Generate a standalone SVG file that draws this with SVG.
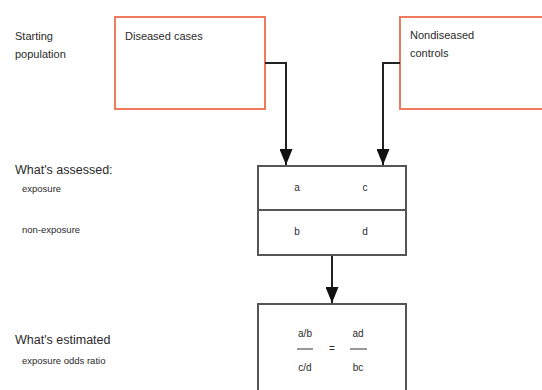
<svg xmlns="http://www.w3.org/2000/svg" width="542" height="390" viewBox="0 0 542 390">
  <style>
    text { font-family: "Liberation Sans", Arial, sans-serif; fill: #2a2a2a; }
    .lbl { font-size: 11px; }
    .head { font-size: 12.5px; }
    .sub { font-size: 9.5px; }
    .cell { font-size: 10px; text-anchor: middle; }
    .pop { fill: #fff; stroke: #f07a5e; stroke-width: 2; }
    .tab { fill: #fff; stroke: #555; stroke-width: 2; }
    .conn { fill: none; stroke: #222; stroke-width: 2; }
    .frac { stroke: #555; stroke-width: 1.2; }
  </style>
  <defs>
    <marker id="arrow" viewBox="0 0 16 13" refX="16" refY="6.5" markerWidth="8" markerHeight="6.5" markerUnits="strokeWidth" orient="auto">
      <path d="M0,0 L16,6.5 L0,13 z" fill="#111"/>
    </marker>
  </defs>

  <rect width="542" height="390" fill="#fff"/>

  <!-- row labels -->
  <g id="row-labels">
    <text class="lbl" x="15" y="40">Starting</text>
    <text class="lbl" x="15" y="58">population</text>
    <text class="head" x="15" y="174">What's assessed:</text>
    <text class="sub" x="22" y="192">exposure</text>
    <text class="sub" x="22" y="233">non-exposure</text>
    <text class="head" x="15" y="344">What's estimated</text>
    <text class="sub" x="22" y="364">exposure odds ratio</text>
  </g>

  <g id="cases">
    <rect class="pop" x="115" y="17" width="150" height="92"/>
    <text class="lbl" x="125" y="40">Diseased cases</text>
  </g>

  <g id="controls">
    <rect class="pop" x="400" y="17" width="160" height="92"/>
    <text class="lbl" x="410" y="39">Nondiseased</text>
    <text class="lbl" x="410" y="57">controls</text>
  </g>

  <g id="table">
    <rect class="tab" x="258" y="166" width="148" height="89"/>
    <line class="tab" x1="258" y1="210" x2="406" y2="210"/>
    <text class="cell" x="297" y="191">a</text>
    <text class="cell" x="365" y="191">c</text>
    <text class="cell" x="297" y="235">b</text>
    <text class="cell" x="365" y="235">d</text>
  </g>

  <g id="odds-ratio">
    <path class="tab" d="M258,395 V304 H406 V395"/>
    <text class="cell" x="305" y="337">a/b</text>
    <line class="frac" x1="297" y1="349" x2="313" y2="349"/>
    <text class="cell" x="305" y="371">c/d</text>
    <text class="cell" x="332" y="352">=</text>
    <text class="cell" x="358" y="337">ad</text>
    <line class="frac" x1="350" y1="349" x2="367" y2="349"/>
    <text class="cell" x="358" y="371">bc</text>
  </g>

  <g id="connectors">
    <path class="conn" d="M265,63 H286 V165" marker-end="url(#arrow)"/>
    <path class="conn" d="M400,63 H383 V165" marker-end="url(#arrow)"/>
    <path class="conn" d="M332,256 V303" marker-end="url(#arrow)"/>
  </g>
</svg>
